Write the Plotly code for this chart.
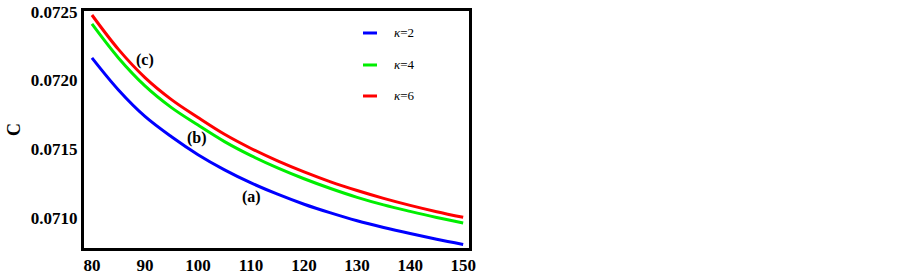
import plotly.graph_objects as go

x_vals = [80, 85, 90, 95, 100, 105, 110, 115, 120, 125, 130, 135, 140, 145, 150]
c_kappa2 = [0.072163, 0.071930, 0.071738, 0.071590, 0.071460, 0.071350, 0.071255, 0.071173,
            0.071100, 0.071037, 0.070980, 0.070931, 0.070887, 0.070846, 0.070808]
c_kappa4 = [0.072410, 0.072163, 0.071960, 0.071802, 0.071675, 0.071555, 0.071453, 0.071364,
            0.071285, 0.071214, 0.071150, 0.071095, 0.071048, 0.071004, 0.070964]
c_kappa6 = [0.072475, 0.072225, 0.072020, 0.071860, 0.071730, 0.071608, 0.071505, 0.071415,
            0.071335, 0.071263, 0.071200, 0.071143, 0.071092, 0.071046, 0.071005]

series_names = ["κ=2", "κ=4", "κ=6"]
series_colors = ["#0000ff", "#00ee00", "#ff0000"]
series_values = [c_kappa2, c_kappa4, c_kappa6]

curve_labels = ["(a)", "(b)", "(c)"]
label_pos = [(110.0, 0.071153), (99.8, 0.071581), (90.0, 0.072148)]

x_ticks = [80, 90, 100, 110, 120, 130, 140, 150]
y_ticks = [0.0710, 0.0715, 0.0720, 0.0725]
y_tick_text = ["0.0710", "0.0715", "0.0720", "0.0725"]

fig = go.Figure()
for name, col, vals in zip(series_names, series_colors, series_values):
    fig.add_trace(go.Scatter(x=x_vals, y=vals, mode="lines", name=name,
                             line=dict(color=col, width=3, shape="spline", smoothing=1.0),
                             showlegend=False, hoverinfo="skip"))

serif = "Liberation Serif"

for lab, (lx, ly) in zip(curve_labels, label_pos):
    fig.add_annotation(x=lx, y=ly, text=lab, showarrow=False,
                       font=dict(family=serif, size=16, color="black", weight="bold"))

# manual legend
leg_y = [0.9072, 0.7722, 0.6414]
for name, col, yy in zip(series_names, series_colors, leg_y):
    fig.add_shape(type="line", xref="paper", yref="paper", x0=0.7247, x1=0.761, y0=yy, y1=yy,
                  line=dict(color=col, width=3))
    fig.add_annotation(xref="paper", yref="paper", x=0.800, y=yy, xanchor="left", yanchor="middle",
                       text="<i>κ</i>=" + name.split("=")[1], showarrow=False,
                       font=dict(family=serif, size=13, color="black"))

fig.update_layout(
    width=902, height=275,
    margin=dict(l=84, r=433, t=11, b=27, autoexpand=False),
    paper_bgcolor="white", plot_bgcolor="white",
    showlegend=False,
)
fig.update_xaxes(range=[78.5, 151.1], tickvals=x_ticks, showgrid=False, zeroline=False,
                 showline=True, mirror=True, linecolor="black", linewidth=3, ticks="",
                 automargin=False,
                 tickfont=dict(family=serif, size=17, color="black", weight="bold"))
fig.update_yaxes(range=[0.070782, 0.072504], tickvals=y_ticks, ticktext=y_tick_text,
                 showgrid=False, zeroline=False, automargin=False,
                 showline=True, mirror=True, linecolor="black", linewidth=3, ticks="",
                 tickfont=dict(family=serif, size=17, color="black", weight="bold"),
                 title=dict(text="C", standoff=6,
                            font=dict(family=serif, size=18, color="black", weight="bold")))

fig.write_html("out.html", config={"displayModeBar": False},
               post_script="document.body.style.margin='0';document.body.style.overflow='hidden';")
